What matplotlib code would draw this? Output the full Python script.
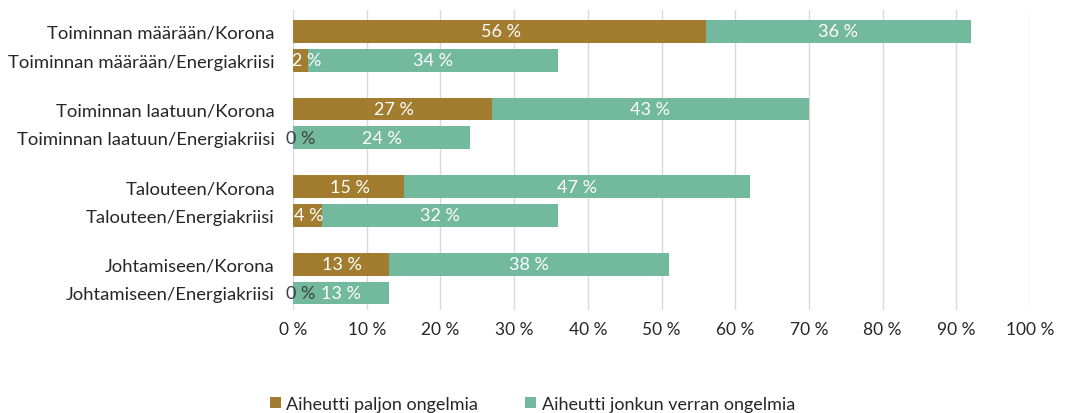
import matplotlib
matplotlib.use("Agg")
import matplotlib.pyplot as plt

plt.rcParams['font.family'] = ['Lato', 'DejaVu Sans']

categories = [
    "Toiminnan määrään/Korona",
    "Toiminnan määrään/Energiakriisi",
    "Toiminnan laatuun/Korona",
    "Toiminnan laatuun/Energiakriisi",
    "Talouteen/Korona",
    "Talouteen/Energiakriisi",
    "Johtamiseen/Korona",
    "Johtamiseen/Energiakriisi",
]
paljon = [56, 2, 27, 0, 15, 4, 13, 0]
jonkun = [36, 34, 43, 24, 47, 32, 38, 13]
series_names = ["Aiheutti paljon ongelmia", "Aiheutti jonkun verran ongelmia"]
xticks = [0, 10, 20, 30, 40, 50, 60, 70, 80, 90, 100]

BROWN = "#A37D2F"
GREEN = "#72B99E"
TEXT = "#262626"

# pairs of bars, larger gap between pairs
pos = []
for i in range(len(categories)):
    pos.append((i // 2) * 2.69 + (i % 2))

fig = plt.figure(figsize=(10.65, 4.14), dpi=100)
ax = fig.add_axes([293 / 1065, 1 - 311 / 414, (1030 - 293) / 1065, 300 / 414])

h = 0.79
ax.barh(pos, paljon, height=h, color=BROWN, label=series_names[0], zorder=2)
ax.barh(pos, jonkun, left=paljon, height=h, color=GREEN, label=series_names[1], zorder=2)

for y, a, b in zip(pos, paljon, jonkun):
    # small labels get pushed right so they stay readable
    xa = 1.1 if a == 0 else max(a / 2 + 0.2, 1.9)
    ax.text(xa, y, f"{a} %", ha="center", va="center", fontsize=13,
            color="white" if a > 0 else "#404040", zorder=3)
    ax.text(a + b / 2, y, f"{b} %", ha="center", va="center", fontsize=13,
            color="white", zorder=3)

ax.set_xlim(0, 100)
ax.set_ylim(pos[-1] + 0.59, -0.74)
ax.set_xticks(xticks)
ax.set_xticklabels([f"{t} %" for t in xticks], fontsize=12.5, color=TEXT)
ax.set_yticks(pos)
ax.set_yticklabels(categories, fontsize=13.3, color=TEXT)
ax.tick_params(axis="y", length=0, pad=13)
ax.tick_params(axis="x", length=0, pad=8)
ax.grid(axis="x", color="#d9d9d9", linewidth=1, zorder=0)
for s in ax.spines.values():
    s.set_visible(False)

fig.legend(loc="center", bbox_to_anchor=(0.5, 1 - 405 / 414), ncol=2, frameon=False,
           fontsize=13, handlelength=0.6, handleheight=0.6, handletextpad=0.3,
           columnspacing=2.6, labelcolor=TEXT)

fig.savefig("out.png", dpi=100)
